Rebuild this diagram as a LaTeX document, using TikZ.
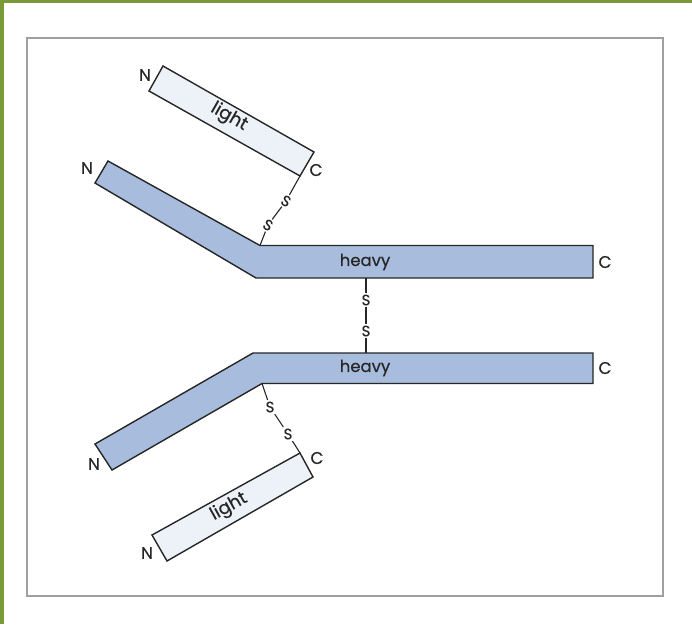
\documentclass[tikz,border=0pt]{standalone}
\usepackage{tkz-euclide}
\usepackage{fontspec}
\setmainfont{Poppins}[FakeBold=0.4]
\definecolor{heavyblue}{RGB}{168,189,222}
\definecolor{lightfill}{RGB}{237,241,248}
\definecolor{ink}{RGB}{38,38,38}
\definecolor{olive}{RGB}{122,154,58}

\tikzset{
  chainbody/.style={draw=ink,line width=1.4pt,line join=miter},
  endlabel/.style={font=\fontsize{17}{17}\selectfont,text=ink,inner sep=0pt},
  sulf/.style={font=\fontsize{15}{15}\selectfont,text=ink,inner sep=1.5pt},
  bond/.style={draw=ink,line width=1.1pt},
  chainname/.style={font=\fontsize{18}{18}\selectfont,text=ink,inner sep=0pt}
}

\begin{document}
\begin{tikzpicture}[x=1pt,y=-1pt]
    \useasboundingbox (0,0) rectangle (692,624);
    \fill[olive] (0,0) rectangle (692,3);
    \fill[olive] (0,0) rectangle (3.5,624);
    \draw[gray!75,line width=1.2pt] (27,38) rectangle (663,596);
    % upper light chain
    \tkzDefPoint(163,66){La}
    \tkzDefPoint(314,152){Lb}
    \tkzDefPoint(300,176){Lc}
    \tkzDefPoint(149,91){Ld}
    \tkzDrawPolygon[chainbody,fill=lightfill](La,Lb,Lc,Ld)
    % upper heavy chain
    \tkzDefPoint(108,161){Ha}
    \tkzDefPoint(260,245.5){Hb}
    \tkzDefPoint(593,245.5){Hc}
    \tkzDefPoint(593,278){Hd}
    \tkzDefPoint(256,278){He}
    \tkzDefPoint(95,183){Hf}
    \tkzDrawPolygon[chainbody,fill=heavyblue](Ha,Hb,Hc,Hd,He,Hf)
    % lower heavy chain
    \tkzDefPoint(95,444){Ka}
    \tkzDefPoint(253,353){Kb}
    \tkzDefPoint(593,353){Kc}
    \tkzDefPoint(593,383.5){Kd}
    \tkzDefPoint(262,383.5){Ke}
    \tkzDefPoint(112,470){Kf}
    \tkzDrawPolygon[chainbody,fill=heavyblue](Ka,Kb,Kc,Kd,Ke,Kf)
    % lower light chain
    \tkzDefPoint(152,535){Ma}
    \tkzDefPoint(300,453){Mb}
    \tkzDefPoint(313,477){Mc}
    \tkzDefPoint(167,561){Md}
    \tkzDrawPolygon[chainbody,fill=lightfill](Ma,Mb,Mc,Md)
    % chain names
    \node[chainname,rotate=-29.7] (lightU) at (229,117) {light};
    \node[chainname,font=\fontsize{16.5}{16.5}\selectfont] (heavyU) at (365,262) {heavy};
    \node[chainname,font=\fontsize{16.5}{16.5}\selectfont] (heavyL) at (365,368) {heavy};
    \node[chainname,rotate=29] (lightL) at (229,507) {light};
    % N and C ends
    \node[endlabel] (nLU) at (145,75) {N};
    \node[endlabel] (cLU) at (316,170) {C};
    \node[endlabel] (nHU) at (87,168) {N};
    \node[endlabel] (cHU) at (605,262) {C};
    \node[endlabel] (nHL) at (94,464) {N};
    \node[endlabel] (cHL) at (605,368) {C};
    \node[endlabel] (cLL) at (317,458) {C};
    \node[endlabel] (nLL) at (147,553) {N};
    % disulfide bridges
    \node[sulf,rotate=-30] (s1) at (286,201) {S};
    \node[sulf,rotate=-30] (s2) at (268,225) {S};
    \draw[bond] (Lc) -- (s1) -- (s2) -- (Hb);
    \node[sulf] (s3) at (366,300) {S};
    \node[sulf] (s4) at (366,331) {S};
    \draw[bond] (366,278) coordinate (m1) -- (s3) -- (s4) -- (366,353) coordinate (m2);
    \node[sulf] (s5) at (270,407) {S};
    \node[sulf] (s6) at (288,434) {S};
    \draw[bond] (Ke) -- (s5) -- (s6) -- (Mb);
\end{tikzpicture}
\end{document}
